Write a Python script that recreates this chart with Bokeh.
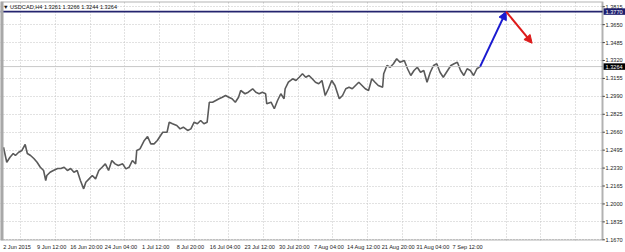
from bokeh.plotting import figure
from bokeh.models import (Range1d, LinearAxis, FixedTicker, Grid, Span, Label,
                          Arrow, NormalHead, BoxAnnotation)
from bokeh.core.properties import value
from bokeh.embed import file_html
from bokeh.resources import INLINE

# ---------------- data ----------------
title_text = "\u25bc USDCAD,H4  1.3261 1.3266 1.3244 1.3264"

bars = [0, 3, 6, 9, 11, 14, 17, 20, 22, 25, 28, 31, 34, 37, 39, 40, 43, 46, 50, 53,
        56, 59, 62, 65, 68, 71, 74, 76, 79, 82, 85, 88, 91, 94, 97, 100, 103, 106, 110, 113,
        116, 119, 122, 123, 126, 130, 133, 136, 139, 142,
        147, 151, 153, 156, 160, 163, 166, 170, 173, 176, 179, 182, 185, 188, 190, 193, 196, 199,
        202, 205, 208, 211, 214, 217, 219, 223, 226, 230, 233, 236, 239, 242, 243, 247, 250, 253,
        256, 259, 260, 263, 267, 270, 273, 276, 279, 282,
        285, 288, 291, 294, 297, 300, 303, 306, 310, 313, 316, 319, 322, 325, 328, 331, 334, 337,
        340, 343, 346, 350, 351, 354, 357, 360, 363, 366, 370, 373, 376, 379, 382, 385, 388, 391,
        394, 397, 400, 403, 406, 410, 413, 416, 419, 422, 425, 428, 431, 434, 437, 440]

closes = [1.2522, 1.2384, 1.2430, 1.2464, 1.2446, 1.2476, 1.2492, 1.2547, 1.2464, 1.2446,
          1.2418, 1.2384, 1.2338, 1.2308, 1.2216, 1.2262, 1.2292, 1.2308, 1.2326, 1.2326,
          1.2338, 1.2308, 1.2326, 1.2292, 1.2308, 1.2216, 1.2139, 1.2200, 1.2231, 1.2262,
          1.2231, 1.2308, 1.2338, 1.2369, 1.2308, 1.2400, 1.2369, 1.2354, 1.2369, 1.2323,
          1.2338, 1.2400, 1.2369, 1.2492, 1.2507, 1.2584, 1.2621, 1.2553, 1.2553, 1.2584,
          1.2660, 1.2660, 1.2752, 1.2738, 1.2722, 1.2691, 1.2706, 1.2676, 1.2691, 1.2752,
          1.2738, 1.2768, 1.2738, 1.2752, 1.2936, 1.2936, 1.2952, 1.2968, 1.2982, 1.2998,
          1.2982, 1.2968, 1.2936, 1.2982, 1.3044, 1.3014, 1.3028, 1.3060, 1.3028, 1.3014,
          1.3028, 1.3014, 1.2922, 1.2936, 1.2876, 1.2952, 1.3014, 1.2968, 1.3060, 1.3120,
          1.3152, 1.3136, 1.3166, 1.3198, 1.3166, 1.3182,
          1.3152, 1.3120, 1.3106, 1.3136, 1.2998, 1.3060, 1.3136, 1.3090, 1.2968, 1.2998,
          1.3060, 1.3074, 1.3060, 1.3090, 1.3120, 1.3090, 1.3060, 1.3044, 1.3152, 1.3120,
          1.3090, 1.3074, 1.3198, 1.3274, 1.3258, 1.3290, 1.3336, 1.3304, 1.3320, 1.3244,
          1.3182, 1.3228, 1.3258, 1.3212, 1.3228, 1.3120, 1.3212, 1.3274, 1.3290, 1.3212,
          1.3166, 1.3228, 1.3274, 1.3290, 1.3304, 1.3228, 1.3182, 1.3244, 1.3228, 1.3182,
          1.3244, 1.3264]

date_labels = ["2 Jun 2015", "9 Jun 12:00", "16 Jun 20:00", "24 Jun 04:00", "1 Jul 12:00",
               "8 Jul 20:00", "16 Jul 04:00", "23 Jul 12:00", "30 Jul 20:00", "7 Aug 04:00",
               "14 Aug 12:00", "21 Aug 20:00", "31 Aug 04:00", "7 Sep 12:00"]
date_label_bars = [0, 32, 64, 96, 128, 160, 192, 224, 256, 288, 320, 352, 384, 416]
grid_bars = [16, 48, 80, 112, 144, 176, 208, 240, 272, 304, 336, 368, 400, 432, 464, 496, 528]

price_ticks = [1.3815, 1.3650, 1.3485, 1.3320, 1.3155, 1.2990, 1.2825, 1.2660,
               1.2495, 1.2330, 1.2165, 1.2000, 1.1835, 1.1670]
price_labels = [f"{t:.4f}" for t in price_ticks]

level_price = 1.3770
bid_price = 1.3264
highlight_prices = [level_price, bid_price]
highlight_labels = ["1.3770", "1.3264"]
highlight_colors = ["#1e1e6e", "#000000"]

up_arrow = [440, 1.3264, 464, 1.3770]
down_arrow = [464, 1.3770, 488, 1.3479]

# chart-area extent in bars; the price scale lives to the right of it
X0, XCHART, XEND = -2.77, 553.0, 574.23
Y0, Y1 = 1.16636, 1.38629

# ---------------- figure ----------------
FONT = "Liberation Sans"
FS = "5.6px"

p = figure(width=625, height=252, output_backend="svg", toolbar_location=None,
           x_range=Range1d(X0, XEND), y_range=Range1d(Y0, Y1),
           min_border_left=0, min_border_right=0, min_border_top=1, min_border_bottom=12,
           x_axis_location=None, y_axis_location=None)
p.background_fill_color = "white"
p.border_fill_color = "white"
p.outline_line_color = None
p.xgrid.visible = False
p.ygrid.visible = False

# dotted grids
p.add_layout(Grid(dimension=0, ticker=FixedTicker(ticks=grid_bars),
                  grid_line_color="#c4c4c4", grid_line_dash="1 2", grid_line_width=1))
p.add_layout(Grid(dimension=1, ticker=FixedTicker(ticks=price_ticks),
                  grid_line_color="#c4c4c4", grid_line_dash="1 2", grid_line_width=1))

# price series
p.line(bars, closes, line_color="#5a5a5a", line_width=1.6)

# horizontal level lines
p.add_layout(Span(location=bid_price, dimension="width", line_color="#c8c8c8", line_width=1))
p.add_layout(Span(location=level_price, dimension="width", line_color="#24246e", line_width=1.6))

# price-scale area (white), chart frame border and left window edge
p.add_layout(BoxAnnotation(left=XCHART, right=XEND, fill_color="white", fill_alpha=1,
                           line_color=None))
p.add_layout(BoxAnnotation(left=X0, right=XCHART, bottom=Y0, top=Y1, fill_alpha=0,
                           line_color="#000000", line_width=2))
p.add_layout(BoxAnnotation(left=X0, right=0, fill_color="#a8a8a8", fill_alpha=1,
                           line_color=None))

# arrows
p.add_layout(Arrow(x_start=up_arrow[0], y_start=up_arrow[1], x_end=up_arrow[2], y_end=up_arrow[3],
                   line_color="#1a1ad0", line_width=2,
                   end=NormalHead(size=8, fill_color="#1a1ad0", line_color="#1a1ad0")))
p.add_layout(Arrow(x_start=down_arrow[0], y_start=down_arrow[1], x_end=down_arrow[2], y_end=down_arrow[3],
                   line_color="#dd1a1a", line_width=2,
                   end=NormalHead(size=8, fill_color="#dd1a1a", line_color="#dd1a1a")))

# price scale: tick marks, labels, highlighted labels
n = len(price_ticks)
p.segment(x0=[XCHART] * n, y0=price_ticks, x1=[XCHART + 2.2] * n, y1=price_ticks,
          line_color="#444444", line_width=1, level="overlay")
p.text(x=[XCHART] * n, y=price_ticks, text=price_labels, x_offset=3,
       text_font=value(FONT), text_font_size=FS, text_color="#222222",
       text_baseline="middle", text_align="left", level="overlay")
m = len(highlight_prices)
p.rect(x=[(XCHART + XEND) / 2 + 0.5] * m, y=highlight_prices, width=XEND - XCHART - 1,
       height=[6.5] * m, height_units="screen", fill_color=highlight_colors,
       line_color=None, level="overlay")
p.text(x=[XCHART] * m, y=highlight_prices, text=highlight_labels, x_offset=3,
       text_font=value(FONT), text_font_size=FS, text_color="white",
       text_baseline="middle", text_align="left", level="overlay")

# time axis (labels start at their bar, as in the original)
label_centers = [b + 12.5 for b in date_label_bars]
xax = LinearAxis(ticker=FixedTicker(ticks=label_centers),
                 major_label_overrides={c: t for c, t in zip(label_centers, date_labels)},
                 major_tick_out=0, major_tick_in=0, minor_tick_out=0, minor_tick_in=0,
                 major_label_standoff=3, axis_line_color=None,
                 major_label_text_font=FONT, major_label_text_font_size=FS,
                 major_label_text_color="#222222")
p.add_layout(xax, "below")

# title inside chart
p.add_layout(Label(x=-0.5, y=1.3810, text=title_text, text_font=FONT, text_font_size=FS,
                   text_color="#111111", text_baseline="middle", text_align="left"))

open("out.html", "w").write(file_html(p, INLINE))
